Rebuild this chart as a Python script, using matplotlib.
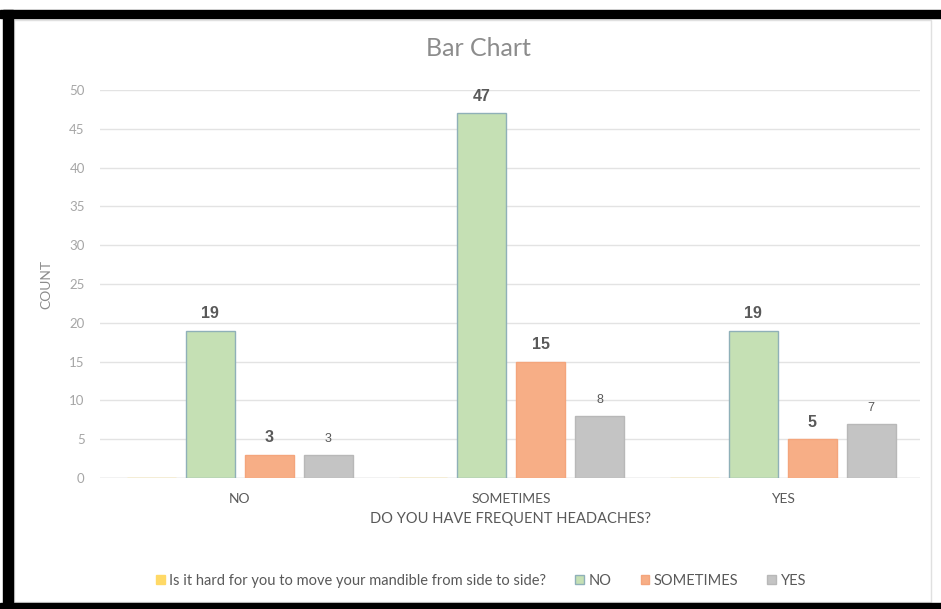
import numpy as np
import matplotlib.pyplot as plt
from matplotlib.patches import Rectangle

plt.rcParams['font.family'] = ['Lato', 'DejaVu Sans']

groups = ['NO', 'SOMETIMES', 'YES']
series = ['Is it hard for you to move your mandible from side to side?', 'NO', 'SOMETIMES', 'YES']
hard_blank = [0, 0, 0]
no_vals = [19, 47, 19]
some_vals = [3, 15, 5]
yes_vals = [3, 8, 7]

fills = ['#FFD966', '#C5E0B4', '#F7AE86', '#C4C4C4']
edges = ['#FFD966', '#8FB0B8', '#F4A57C', '#B8B8B8']

W, H = 941, 609
fig = plt.figure(figsize=(W / 100, H / 100), dpi=100)
ax = fig.add_axes([100 / W, (H - 478) / H, 820 / W, 388 / H])

x = np.arange(len(groups))
step = 0.217
width = 0.18
data = [hard_blank, no_vals, some_vals, yes_vals]
for i, vals in enumerate(data):
    pos = x + (i - 1.5) * step
    bars = ax.bar(pos, vals, width, color=fills[i], edgecolor=edges[i],
                  linewidth=1, label=series[i], zorder=3)
    if i == 0:
        continue
    for b, v in zip(bars, vals):
        if i == 3:
            ax.annotate(str(v), (b.get_x() + b.get_width() / 2, v), xytext=(0, 9),
                        textcoords='offset points', ha='center', va='baseline',
                        fontsize=9, color='#595959', family='Liberation Sans')
        else:
            ax.annotate(str(v), (b.get_x() + b.get_width() / 2, v), xytext=(0, 9),
                        textcoords='offset points', ha='center', va='baseline',
                        fontsize=11.5, fontweight='bold', color='#595959',
                        family='Liberation Sans')

ax.set_xlim(-0.515, 2.505)
ax.set_ylim(0, 50)
ax.set_yticks(range(0, 51, 5))
ax.set_xticks(x)
ax.set_xticklabels(groups)
ax.tick_params(length=0, colors='#A6A6A6', labelsize=9.5)
ax.tick_params(axis='x', pad=11, colors='#595959', labelsize=10)
ax.tick_params(axis='y', pad=11)
ax.grid(axis='y', color='#E3E3E3', linewidth=1, zorder=0)
for s in ax.spines.values():
    s.set_visible(False)
ax.axhline(0, color='#D9D9D9', linewidth=1, zorder=2)

ax.set_ylabel('COUNT', fontsize=10, color='#8C8C8C')
ax.yaxis.set_label_coords(-0.058, 0.5)
ax.set_xlabel('DO YOU HAVE FREQUENT HEADACHES?', fontsize=10.5, color='#595959', labelpad=5)
fig.text(478 / W, 1 - 49 / H, 'Bar Chart', ha='center', va='center',
         fontsize=18, color='#8C8C8C')

fig.legend(loc='center', bbox_to_anchor=(481 / W, 1 - 581 / H), ncol=4, frameon=False,
           fontsize=10.5, labelcolor='#595959', handlelength=0.6, handleheight=0.6,
           handletextpad=0.3, columnspacing=2.0)

# chart area border and black frame from the screenshot
fig.add_artist(Rectangle((14 / W, 7 / H), 917 / W, 1 - 27 / H, transform=fig.transFigure,
                         fill=False, edgecolor='#E0E0E0', linewidth=1))
fig.add_artist(Rectangle((0, 1 - 18 / H), 1, 8 / H, transform=fig.transFigure, color='black'))
fig.add_artist(Rectangle((3 / W, 0), 10 / W, 1 - 10 / H, transform=fig.transFigure, color='black'))
fig.add_artist(Rectangle((0, 0), 1, 6 / H, transform=fig.transFigure, color='black'))

fig.savefig('out.png', dpi=100)
